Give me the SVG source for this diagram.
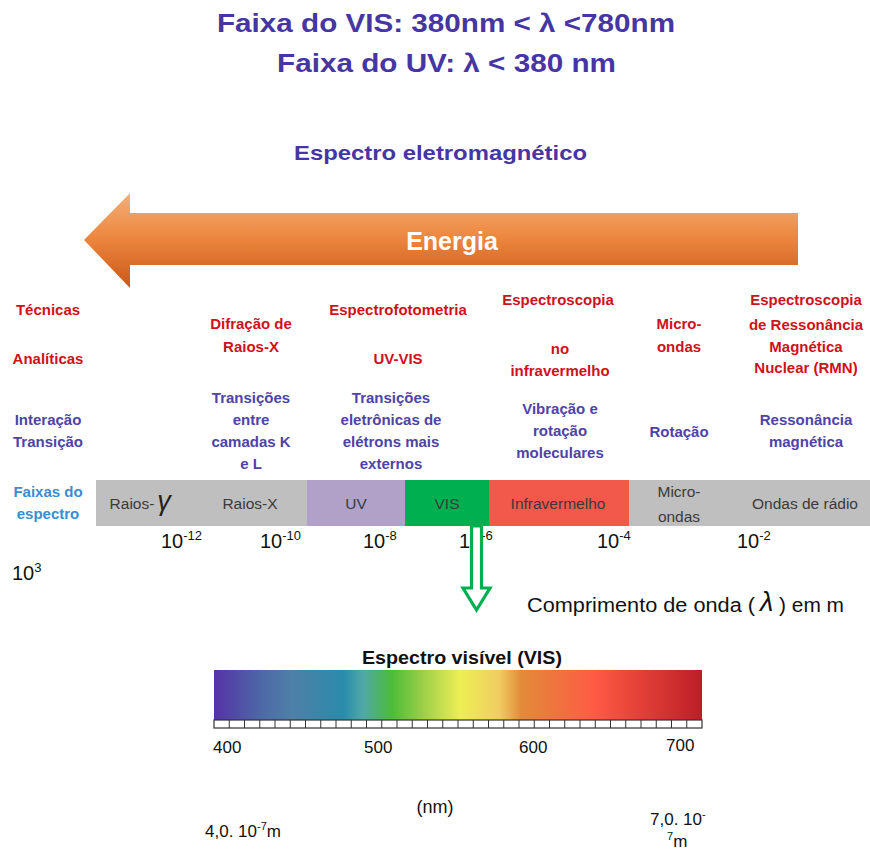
<svg xmlns="http://www.w3.org/2000/svg" width="870" height="850" viewBox="0 0 870 850">
<style>
text{font-family:"Liberation Sans",Arial,sans-serif}
.t{font-weight:bold;fill:#4636A3}
.red{font-weight:bold;fill:#D0101A;font-size:15px;text-anchor:middle}
.pur{font-weight:bold;fill:#4E43A6;font-size:15px;text-anchor:middle}
.blu{font-weight:bold;fill:#3A8DD2;font-size:15px;text-anchor:middle}
.band{fill:#3A3A3A;font-size:15.5px;text-anchor:middle}
.tick{fill:#111;font-size:20px}
.sup{font-size:13px}
</style>
<defs>
<linearGradient id="og" x1="0" y1="0" x2="0" y2="1">
<stop offset="0" stop-color="#F3B07A"/>
<stop offset="0.45" stop-color="#EE8840"/>
<stop offset="1" stop-color="#C95818"/>
</linearGradient>
<linearGradient id="vis" x1="0" y1="0" x2="1" y2="0">
<stop offset="0" stop-color="#5533A6"/>
<stop offset="0.1" stop-color="#4D6AA6"/>
<stop offset="0.16" stop-color="#4E80A8"/>
<stop offset="0.265" stop-color="#2A8BAB"/>
<stop offset="0.305" stop-color="#50A8A8"/>
<stop offset="0.365" stop-color="#4CBC38"/>
<stop offset="0.43" stop-color="#9ED048"/>
<stop offset="0.505" stop-color="#EEEE55"/>
<stop offset="0.585" stop-color="#F0CC62"/>
<stop offset="0.63" stop-color="#E28A3A"/>
<stop offset="0.78" stop-color="#FF5A45"/>
<stop offset="1" stop-color="#BC1E28"/>
</linearGradient>
</defs>
<rect width="870" height="850" fill="#fff"/>

<g id="titles">
<text class="t" x="217" y="32" font-size="26" textLength="458" lengthAdjust="spacingAndGlyphs">Faixa do VIS: 380nm &lt; λ &lt;780nm</text>
<text class="t" x="277" y="72" font-size="26" textLength="339" lengthAdjust="spacingAndGlyphs">Faixa do UV: λ &lt; 380 nm</text>
<text class="t" x="294" y="160" font-size="21" textLength="293" lengthAdjust="spacingAndGlyphs">Espectro eletromagnético</text>
</g>

<g id="energia">
<polygon points="84,240 130,193 130,213 798,213 798,265 130,265 130,288" fill="url(#og)"/>
<text x="452" y="250" font-size="25" font-weight="bold" fill="#fff" text-anchor="middle">Energia</text>
</g>

<g id="row-labels">
<text class="red" x="48" y="315">Técnicas</text>
<text class="red" x="48" y="364">Analíticas</text>
<text class="pur" x="48" y="425">Interação</text>
<text class="pur" x="48" y="447">Transição</text>
<text class="blu" x="48" y="497">Faixas do</text>
<text class="blu" x="48" y="519">espectro</text>
</g>

<g id="col-xray">
<text class="red" x="251" y="329">Difração de</text>
<text class="red" x="251" y="352">Raios-X</text>
<text class="pur" x="251" y="403">Transições</text>
<text class="pur" x="251" y="425">entre</text>
<text class="pur" x="251" y="447">camadas K</text>
<text class="pur" x="251" y="469">e L</text>
</g>

<g id="col-uvvis">
<text class="red" x="398" y="315">Espectrofotometria</text>
<text class="red" x="398" y="364">UV-VIS</text>
<text class="pur" x="391" y="403">Transições</text>
<text class="pur" x="391" y="425">eletrônicas de</text>
<text class="pur" x="391" y="447">elétrons mais</text>
<text class="pur" x="391" y="469">externos</text>
</g>

<g id="col-ir">
<text class="red" x="558" y="305">Espectroscopia</text>
<text class="red" x="560" y="354">no</text>
<text class="red" x="560" y="376">infravermelho</text>
<text class="pur" x="560" y="414">Vibração e</text>
<text class="pur" x="560" y="436">rotação</text>
<text class="pur" x="560" y="458">moleculares</text>
</g>

<g id="col-micro">
<text class="red" x="679" y="329">Micro-</text>
<text class="red" x="679" y="352">ondas</text>
<text class="pur" x="679" y="437">Rotação</text>
</g>

<g id="col-rmn">
<text class="red" x="806" y="305">Espectroscopia</text>
<text class="red" x="806" y="330">de Ressonância</text>
<text class="red" x="806" y="352">Magnética</text>
<text class="red" x="806" y="373">Nuclear (RMN)</text>
<text class="pur" x="806" y="425">Ressonância</text>
<text class="pur" x="806" y="447">magnética</text>
</g>

<g id="bands">
<rect x="96" y="480" width="211" height="46" fill="#BFBFBF"/>
<rect x="307" y="480" width="98" height="46" fill="#B1A0C7"/>
<rect x="405" y="480" width="84" height="46" fill="#00B050"/>
<rect x="489" y="480" width="140" height="46" fill="#F2594B"/>
<rect x="629" y="480" width="241" height="46" fill="#BFBFBF"/>
<text class="band" x="132" y="509">Raios-</text>
<text x="164" y="510" font-family="Liberation Serif,serif" font-style="italic" font-size="27" fill="#222" text-anchor="middle">γ</text>
<text class="band" x="250" y="509">Raios-X</text>
<text class="band" x="356" y="509">UV</text>
<text class="band" x="447" y="509">VIS</text>
<text class="band" x="558" y="509">Infravermelho</text>
<text class="band" x="679" y="497">Micro-</text>
<text class="band" x="679" y="522">ondas</text>
<text class="band" x="805" y="509">Ondas de rádio</text>
</g>

<g id="ticks">
<text class="tick" x="161" y="548">10<tspan class="sup" dy="-8">-12</tspan></text>
<text class="tick" x="260" y="548">10<tspan class="sup" dy="-8">-10</tspan></text>
<text class="tick" x="363" y="548">10<tspan class="sup" dy="-8">-8</tspan></text>
<text class="tick" x="459" y="548">10<tspan class="sup" dy="-8">-6</tspan></text>
<text class="tick" x="597" y="548">10<tspan class="sup" dy="-8">-4</tspan></text>
<text class="tick" x="737" y="548">10<tspan class="sup" dy="-8">-2</tspan></text>
<text class="tick" x="12" y="580">10<tspan class="sup" dy="-8">3</tspan></text>
</g>

<g id="connectors">
<polygon points="471.5,526 481.5,526 481.5,588 490,588 476.5,610 463,588 471.5,588" fill="#fff" stroke="#00B050" stroke-width="3.2" stroke-linejoin="miter"/>
</g>

<g id="wavelength-label">
<text x="527" y="612" font-size="20" fill="#111" textLength="228" lengthAdjust="spacingAndGlyphs">Comprimento de onda (</text>
<text x="760" y="611" font-family="Liberation Serif,serif" font-style="italic" font-size="27" fill="#111">λ</text>
<text x="779" y="612" font-size="20" fill="#111" textLength="65" lengthAdjust="spacingAndGlyphs">) em m</text>
</g>

<g id="visible-spectrum">
<text x="362" y="664" font-size="18" font-weight="bold" fill="#111" textLength="200" lengthAdjust="spacingAndGlyphs">Espectro visível (VIS)</text>
<rect x="214" y="670" width="488" height="50" fill="url(#vis)"/>
<rect x="214" y="720" width="488" height="8" fill="#fff" stroke="#333" stroke-width="1.2"/>
<path id="tickcells" stroke="#333" stroke-width="1" d="M229.25,720v8M244.5,720v8M259.75,720v8M275,720v8M290.25,720v8M305.5,720v8M320.75,720v8M336,720v8M351.25,720v8M366.5,720v8M381.75,720v8M397,720v8M412.25,720v8M427.5,720v8M442.75,720v8M458,720v8M473.25,720v8M488.5,720v8M503.75,720v8M519,720v8M534.25,720v8M549.5,720v8M564.75,720v8M580,720v8M595.25,720v8M610.5,720v8M625.75,720v8M641,720v8M656.25,720v8M671.5,720v8M686.75,720v8"/>
<text x="213" y="753" font-size="17" fill="#111">400</text>
<text x="364" y="753" font-size="17" fill="#111">500</text>
<text x="519" y="753" font-size="17" fill="#111">600</text>
<text x="666" y="751" font-size="17" fill="#111">700</text>
<text x="435" y="813" font-size="18" fill="#111" text-anchor="middle">(nm)</text>
<text x="205" y="837" font-size="17" fill="#111">4,0. 10<tspan font-size="11" dy="-7">-7</tspan><tspan dy="7">m</tspan></text>
<text x="650" y="825" font-size="17" fill="#111">7,0. 10<tspan font-size="11" dy="-7">-</tspan></text>
<text x="667" y="847" font-size="17" fill="#111"><tspan font-size="11" dy="-7">7</tspan><tspan dy="7">m</tspan></text>
</g>
</svg>
